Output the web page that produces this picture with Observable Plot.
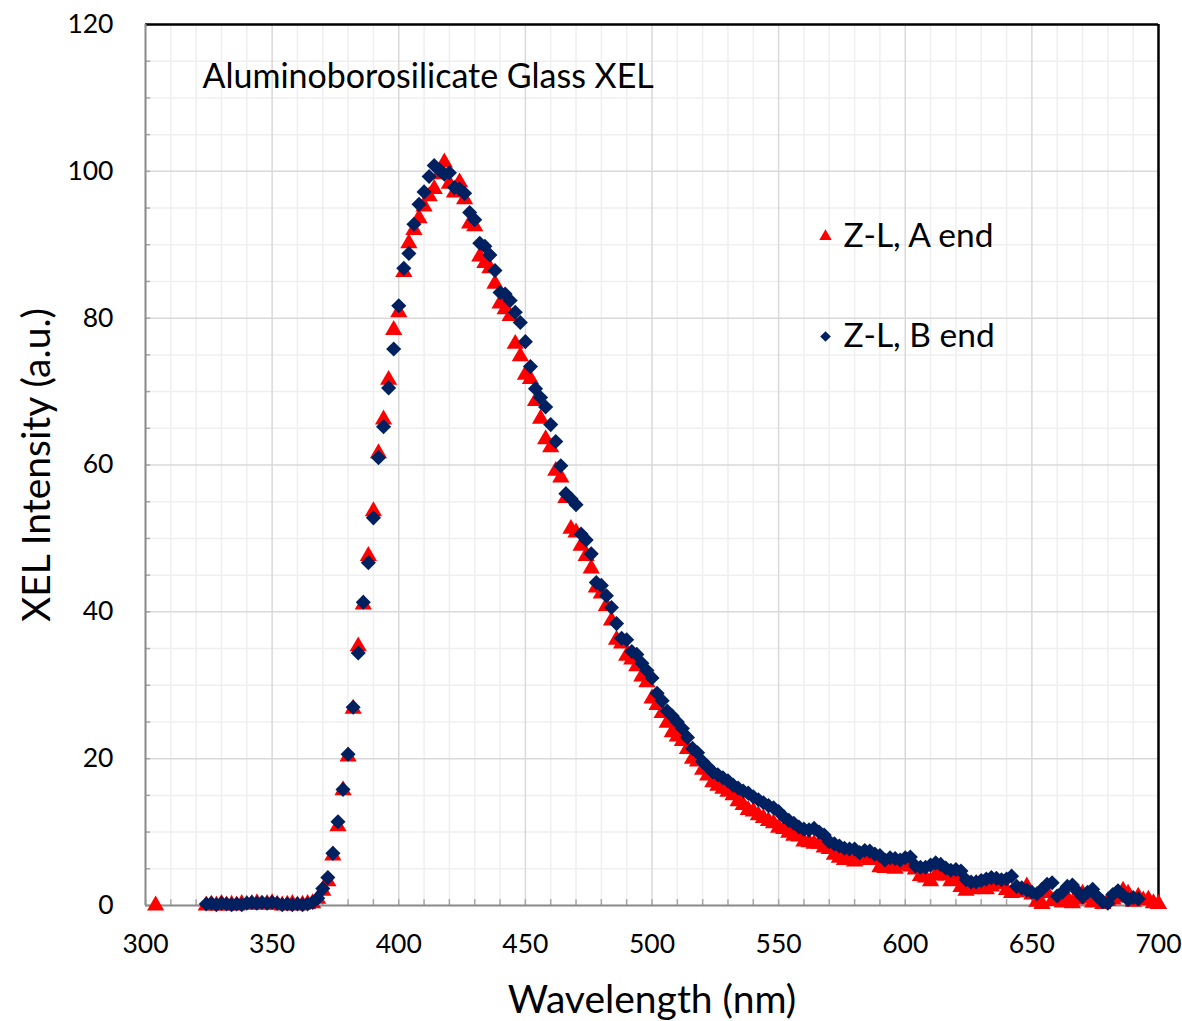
<!DOCTYPE html>
<html><head><meta charset="utf-8">
<script src="https://cdn.jsdelivr.net/npm/d3@7"></script>
<script src="https://cdn.jsdelivr.net/npm/@observablehq/plot@0.6"></script>
<style>body{margin:0;background:#fff;}</style>
</head><body><div id="chart"></div>
<script>
const wavelengthA = [304,
324,326,328,330,332,334,336,338,340,342,344,346,348,350,352,354,356,358,360,362,364,366,368,370,372,374,376,378,380,382,384,386,388,390,392,394,396,398,400,402,404,406,408,410,412,414,416,418,420,422,424,426,428,430,432,434,436,438,440,442,444,446,448,450,452,454,456,458,460,462,464,466,468,470,472,474,476,478,480,482,484,486,488,490,492,494,496,498,500,502,504,506,508,510,512,514,516,518,520,522,524,526,528,530,532,534,536,538,540,542,544,546,548,550,552,554,556,558,560,562,564,566,568,570,572,574,576,578,580,582,584,586,588,590,592,594,596,598,600,602,604,606,608,610,612,614,616,618,620,622,624,626,628,630,632,634,636,638,640,642,644,646,648,650,652,654,656,658,660,662,664,666,668,670,672,674,676,678,680,682,684,686,688,690,692,694,696,698,700];
const intensityA = [0,
0.0,0.1,0.0,0.2,0.0,0.1,0.0,0.2,0.1,0.2,0.3,0.1,0.2,0.3,0.1,0.0,0.1,0.2,0.0,0.1,0.2,0.3,0.9,2.0,3.3,6.8,10.8,15.7,20.3,26.8,35.3,41.0,47.6,53.7,61.6,66.2,71.6,78.4,80.8,86.3,90.2,92.0,93.6,95.2,96.6,97.6,99.6,101.2,98.3,97.1,98.5,96.2,92.9,92.5,88.4,87.5,86.8,84.7,82.0,81.2,80.3,76.5,74.8,72.3,71.7,68.7,66.3,63.5,62.4,59.2,58.3,55.5,51.3,50.8,49.0,47.6,45.9,43.3,42.5,40.8,38.8,36.2,35.7,34.0,33.5,32.6,31.2,30.4,28.2,27.3,26.2,24.9,23.6,23.0,22.4,21.3,20.0,19.6,18.5,17.7,16.8,16.3,15.9,15.5,15.0,14.2,13.7,13.0,12.8,12.3,11.9,11.5,11.2,10.6,10.4,9.9,9.5,9.4,8.7,8.6,8.4,8.4,7.9,7.7,6.9,6.5,6.2,6.3,6.0,6.4,6.6,6.2,6.4,5.2,5.1,5.4,5.0,5.5,5.8,5.3,4.9,4.0,3.8,3.3,4.1,4.6,4.1,3.3,3.6,2.5,2.0,2.2,2.9,2.4,2.2,2.6,3.0,2.9,2.1,1.7,1.8,2.0,2.6,1.5,0.5,0.2,1.7,0.6,0.9,0.4,1.0,0.3,0.8,1.6,1.0,0.4,0.9,0.2,0.6,0.8,1.1,2.0,1.6,0.5,1.2,0.7,0.8,0.3,0.2];
const wavelengthB = [324,326,328,330,332,334,336,338,340,342,344,346,348,350,352,354,356,358,360,362,364,366,368,370,372,374,376,378,380,382,384,386,388,390,392,394,396,398,400,402,404,406,408,410,412,414,416,418,420,422,424,426,428,430,432,434,436,438,440,442,444,446,448,450,452,454,456,458,460,462,464,466,468,470,472,474,476,478,480,482,484,486,488,490,492,494,496,498,500,502,504,506,508,510,512,514,516,518,520,522,524,526,528,530,532,534,536,538,540,542,544,546,548,550,552,554,556,558,560,562,564,566,568,570,572,574,576,578,580,582,584,586,588,590,592,594,596,598,600,602,604,606,608,610,612,614,616,618,620,622,624,626,628,630,632,634,636,638,640,642,644,646,648,650,652,654,656,658,660,662,664,666,668,670,672,674,676,678,680,682,684,686,688,690,692];
const intensityB = [0.2,0.3,0.1,0.3,0.2,0.1,0.2,0.1,0.3,0.4,0.3,0.4,0.3,0.4,0.3,0.1,0.2,0.1,0.2,0.1,0.2,0.4,1.0,2.3,3.8,7.1,11.4,15.8,20.6,27.0,34.4,41.3,46.7,52.8,61.0,65.2,70.5,75.8,81.7,86.8,88.8,92.8,95.5,97.2,99.3,100.8,100.2,99.6,99.8,97.8,97.6,97.0,94.4,93.4,90.2,89.8,88.6,86.5,83.5,83.3,82.4,80.8,79.4,76.8,73.4,70.4,69.2,67.9,65.5,63.2,59.9,56.1,55.4,54.6,50.6,49.8,47.9,44.0,43.6,42.2,40.6,38.4,36.4,36.2,34.6,34.2,33.0,32.0,31.0,28.9,27.9,26.5,25.8,25.0,24.1,22.9,21.4,20.8,19.6,18.9,18.2,17.8,17.4,17.0,16.4,16.0,15.6,15.3,14.8,14.4,14.0,13.6,13.3,12.8,12.1,11.6,11.2,10.7,10.4,10.3,10.5,10.0,9.6,8.7,8.4,8.1,7.8,7.7,7.7,7.2,7.5,7.4,7.0,6.8,6.2,6.5,6.4,6.2,6.5,6.6,5.4,5.2,5.2,5.5,5.8,5.6,5.1,4.8,4.9,4.7,3.5,3.2,3.2,3.4,3.6,3.8,3.7,3.5,3.6,4.0,2.6,2.4,2.1,1.8,1.6,2.2,2.9,3.1,1.3,1.8,2.6,2.8,1.9,1.2,1.8,2.2,1.2,0.5,0.3,1.5,2.0,1.4,0.8,1.1,0.9];

const seriesNames = ["Z-L, A end", "Z-L, B end"];
const seriesColors = ["#ff0000", "#002060"];
const xTicks = [300,350,400,450,500,550,600,650,700];
const yTicks = [0,20,40,60,80,100,120];
const xMinor = [310,320,330,340,360,370,380,390,410,420,430,440,460,470,480,490,510,520,530,540,560,570,580,590,610,620,630,640,660,670,680,690];
const yMinor = [5,10,15,25,30,35,45,50,55,65,70,75,85,90,95,105,110,115];
const chartTitle = "Aluminoborosilicate Glass XEL";
const xLabel = "Wavelength (nm)";
const yLabel = "XEL Intensity (a.u.)";

const dataA = wavelengthA.map((w, i) => ({w, v: intensityA[i]}));
const dataB = wavelengthB.map((w, i) => ({w, v: intensityB[i]}));

const font = "Lato, 'Open Sans', sans-serif";

const chart = Plot.plot({
  width: 1182,
  height: 1021,
  marginLeft: 145,
  marginRight: 24,
  marginTop: 24,
  marginBottom: 116,
  style: {fontFamily: font, background: "#fff", color: "#000"},
  x: {domain: [300, 700], label: null},
  y: {domain: [0, 120], label: null},
  marks: [
    Plot.ruleX(xMinor, {stroke: "#efefef", strokeWidth: 1.5}),
    Plot.ruleY(yMinor, {stroke: "#efefef", strokeWidth: 1.5}),
    Plot.ruleX(xTicks, {stroke: "#d9d9d9", strokeWidth: 1.5}),
    Plot.ruleY(yTicks, {stroke: "#d9d9d9", strokeWidth: 1.5}),
    Plot.ruleX(xMinor.concat(xTicks), {y1: 0, y2: 0.8, stroke: "#a6a6a6", strokeWidth: 1.5}),
    Plot.ruleY(yMinor.concat(yTicks), {x1: 300, x2: 302, stroke: "#a6a6a6", strokeWidth: 1.5}),
    Plot.ruleY([120], {stroke: "#000", strokeWidth: 2.5}),
    Plot.ruleX([700], {stroke: "#000", strokeWidth: 2.5}),
    Plot.ruleX([300], {stroke: "#8c8c8c", strokeWidth: 2}),
    Plot.ruleY([0], {stroke: "#8c8c8c", strokeWidth: 2}),
    Plot.axisY({ticks: yTicks, tickSize: 0, tickPadding: 32, fontSize: 26.5, label: null}),
    Plot.axisX({ticks: xTicks, tickSize: 0, tickPadding: 29, fontSize: 26.5, label: null}),
    Plot.dot(dataA, {x: "w", y: "v", symbol: "triangle", fill: seriesColors[0], r: 6.4}),
    Plot.dot(dataB, {x: "w", y: "v", symbol: "diamond2", fill: seriesColors[1], r: 6.8}),
    Plot.text([chartTitle], {frameAnchor: "top-left", dx: 57, dy: 53, text: d => d, textAnchor: "start", lineAnchor: "middle", fontSize: 34, fill: "#000"}),
    Plot.dot([seriesNames[0]], {frameAnchor: "top-left", dx: 680, dy: 212, symbol: "triangle", fill: seriesColors[0], r: 4.6}),
    Plot.dot([seriesNames[1]], {frameAnchor: "top-left", dx: 680, dy: 312, symbol: "diamond2", fill: seriesColors[1], r: 4.8}),
    Plot.text([seriesNames[0]], {frameAnchor: "top-left", dx: 698, dy: 212, text: d => d, textAnchor: "start", lineAnchor: "middle", fontSize: 33.5, fill: "#000"}),
    Plot.text([seriesNames[1]], {frameAnchor: "top-left", dx: 698, dy: 312, text: d => d, textAnchor: "start", lineAnchor: "middle", fontSize: 33.5, fill: "#000"}),
    Plot.text([xLabel], {frameAnchor: "bottom", dy: 95, text: d => d, textAnchor: "middle", lineAnchor: "middle", fontSize: 39, fill: "#000"}),
    Plot.text([yLabel], {frameAnchor: "left", dx: -108, rotate: -90, text: d => d, textAnchor: "middle", lineAnchor: "middle", fontSize: 39, fill: "#000"})
  ]
});
document.getElementById("chart").appendChild(chart);
</script>
</body></html>
